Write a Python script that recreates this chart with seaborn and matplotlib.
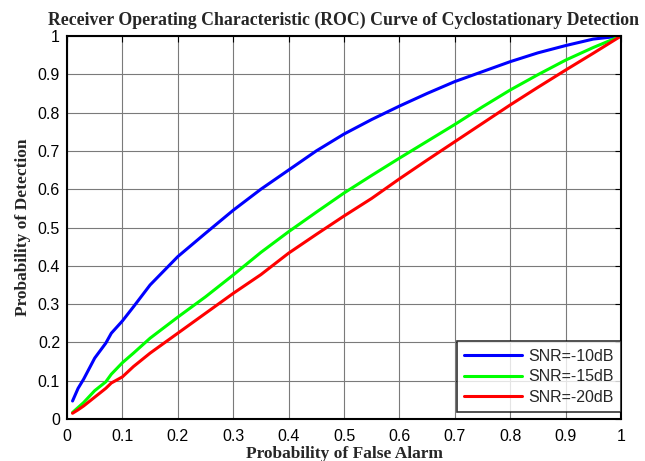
import numpy as np
import pandas as pd
import matplotlib
matplotlib.use("Agg")
import matplotlib.pyplot as plt
import seaborn as sns

# false alarm probability (shared by all curves)
pfa = [0.01, 0.02, 0.03, 0.05, 0.07, 0.08, 0.10, 0.12, 0.15, 0.20, 0.25, 0.30, 0.35,
       0.40, 0.45, 0.50, 0.55, 0.60, 0.65, 0.70, 0.75, 0.80, 0.85, 0.90, 0.95, 1.00]

# detection probability
pd_10 = [0.047, 0.080, 0.104, 0.159, 0.198, 0.224, 0.256, 0.293, 0.350, 0.424, 0.485, 0.545, 0.600,
         0.650, 0.700, 0.744, 0.782, 0.817, 0.850, 0.881, 0.907, 0.933, 0.956, 0.975, 0.992, 1.0]
pd_15 = [0.017, 0.030, 0.043, 0.074, 0.097, 0.117, 0.147, 0.172, 0.211, 0.266, 0.319, 0.376, 0.435,
         0.489, 0.540, 0.590, 0.636, 0.681, 0.725, 0.769, 0.815, 0.859, 0.899, 0.937, 0.970, 1.0]
pd_20 = [0.015, 0.024, 0.034, 0.057, 0.080, 0.094, 0.110, 0.137, 0.172, 0.224, 0.276, 0.328, 0.377,
         0.433, 0.482, 0.530, 0.576, 0.627, 0.676, 0.724, 0.772, 0.820, 0.866, 0.911, 0.955, 1.0]

labels = ["SNR=-10dB", "SNR=-15dB", "SNR=-20dB"]
colors = ["#0000ff", "#00ff00", "#ff0000"]

df = pd.concat([
    pd.DataFrame({"Pfa": pfa, "Pd": vals, "SNR": lab})
    for vals, lab in zip([pd_10, pd_15, pd_20], labels)
], ignore_index=True)

sns.set_style("white")
plt.rcParams['font.family'] = ['Liberation Sans', 'DejaVu Sans']

fig = plt.figure(figsize=(6.45, 4.61), dpi=100)
ax = fig.add_axes([67 / 645, 1 - 419 / 461, 554 / 645, 383 / 461])

sns.lineplot(data=df, x="Pfa", y="Pd", hue="SNR", palette=colors, sort=False,
             linewidth=2.2, ax=ax, legend=True)

ticks = np.arange(0, 1.01, 0.1)
tick_txt = ["0", "0.1", "0.2", "0.3", "0.4", "0.5", "0.6", "0.7", "0.8", "0.9", "1"]
ax.set_xlim(0, 1)
ax.set_ylim(0, 1)
ax.set_xticks(ticks)
ax.set_yticks(ticks)
ax.set_xticklabels(tick_txt)
ax.set_yticklabels(tick_txt)
ax.tick_params(direction="in", length=4, width=0.8, labelsize=11.5, top=True, right=True,
               colors="black")
ax.tick_params(axis="x", pad=7)
ax.tick_params(axis="y", pad=5)
ax.grid(True, color="#7a7a7a", linewidth=0.8, linestyle="-")
for s in ax.spines.values():
    s.set_color("black")
    s.set_linewidth(1.5)

serif = {"family": ["Liberation Serif", "DejaVu Serif"], "weight": "bold"}
ax.set_title("Receiver Operating Characteristic (ROC) Curve of Cyclostationary Detection",
             fontdict=dict(serif, size=12.8), pad=8)
ax.set_xlabel("Probability of False Alarm", fontdict=dict(serif, size=12.5), labelpad=2)
ax.set_ylabel("Probability of Detection", fontdict=dict(serif, size=12.5), labelpad=5)

leg = ax.legend(loc="lower right", bbox_to_anchor=(1.0, 7 / 383), fontsize=11.5,
                frameon=True, fancybox=False, borderaxespad=0, handlelength=3.6,
                handletextpad=0.4, labelspacing=0.35, borderpad=0.45)
leg.get_frame().set_edgecolor("black")
leg.get_frame().set_linewidth(1.2)
for line in leg.get_lines():
    line.set_linewidth(2.2)

fig.savefig("out.png", dpi=100)
